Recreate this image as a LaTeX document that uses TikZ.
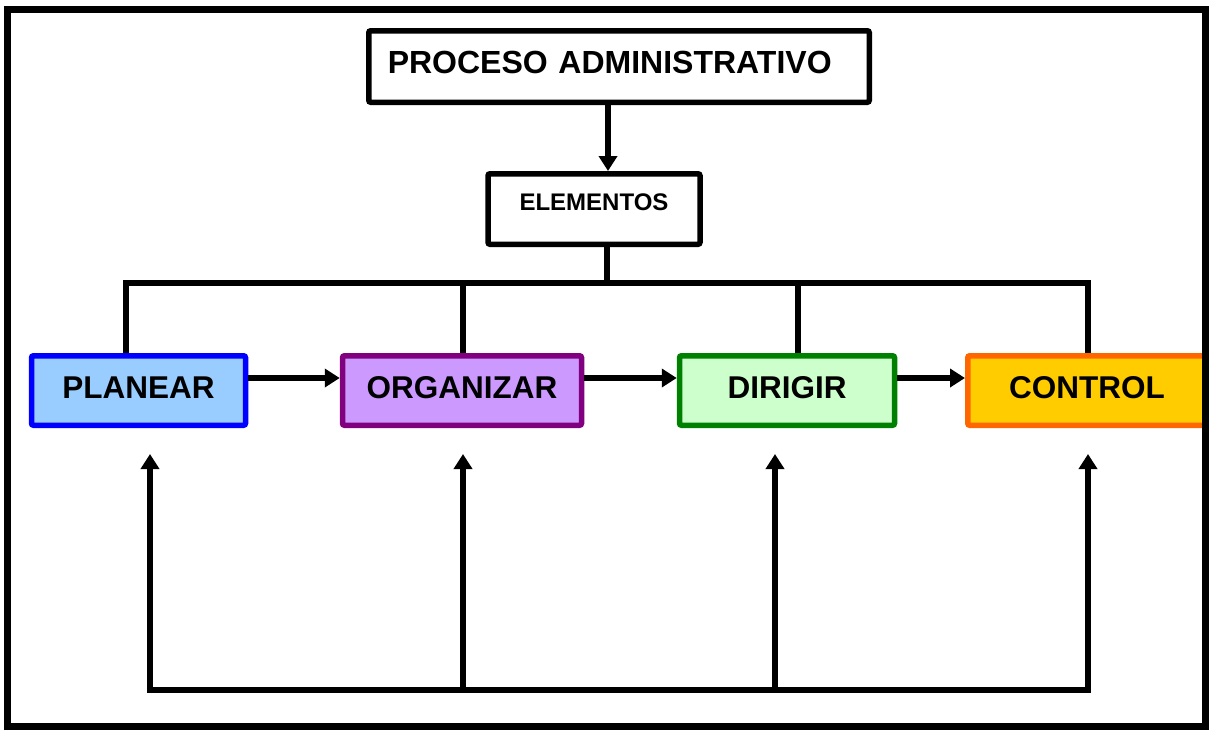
\documentclass[tikz,border=0pt]{standalone}
\usepackage{fontspec}
\setmainfont{Liberation Sans}
\usetikzlibrary{positioning,arrows.meta}

\definecolor{planfill}{HTML}{99CCFF}
\definecolor{plandraw}{HTML}{0000FF}
\definecolor{orgfill}{HTML}{CC99FF}
\definecolor{orgdraw}{HTML}{800080}
\definecolor{dirfill}{HTML}{CCFFCC}
\definecolor{dirdraw}{HTML}{008000}
\definecolor{contfill}{HTML}{FFCC00}
\definecolor{contdraw}{HTML}{FF6600}

\begin{document}
\begin{tikzpicture}[
x=1pt,y=-1pt,
>={Triangle[length=15pt,width=18pt]},
line width=6pt,
box/.style={
rectangle,
draw,
line width=5.5pt,
rounded corners=2pt,
inner sep=0pt,
minimum height=69.5pt,
text height=22pt,
text depth=6pt,
font=\bfseries\fontsize{31.5}{34}\selectfont},
head/.style={box,fill=white}
]

\useasboundingbox (0,0) rectangle (1209,729);

\node[head,inner xsep=19pt,text width=462.5pt,align=left,minimum height=71.5pt,
text height=22.9pt,text depth=9pt,font=\bfseries\fontsize{32}{34}\selectfont]
(proc) at (619,66.5) {PROCESO ADMINISTRATIVO};
\node[head,minimum width=212pt,minimum height=70.5pt,text height=17pt,text depth=15pt,
font=\bfseries\fontsize{24}{26}\selectfont] (elem) at (594,209) {ELEMENTOS};

\node[box,minimum width=214pt,draw=plandraw,fill=planfill] (plan) at (138.5,390.5) {PLANEAR};
\node[box,minimum width=239pt,draw=orgdraw,fill=orgfill] (org) at (462,390.5) {ORGANIZAR};
\node[box,minimum width=215pt,draw=dirdraw,fill=dirfill] (dir) at (787,390.5) {DIRIGIR};
\node[box,minimum width=238.5pt,draw=contdraw,fill=contfill] (cont) at (1087,390.5) {CONTROL};

\draw[->] ([xshift=-11pt]proc.south) -- ([xshift=-11pt]proc.south |- elem.north);

\coordinate (bus) at (607,283);
\draw (elem.south -| bus) -- (bus);
\draw ([xshift=-12.5pt]plan.north) |- (bus) -| ([xshift=1pt]cont.north);
\foreach \b/\dx in {org/1,dir/11}
\draw ([xshift=\dx pt]\b.north) -- ([xshift=\dx pt]\b.north |- bus);

\foreach \a/\b in {plan/org,org/dir,dir/cont}
\draw[->] ([yshift=12.5pt]\a.east) -- ([yshift=12.5pt]\b.west);

\coordinate (fb) at (0,690);
\draw[line cap=rect] ([xshift=11.5pt]plan.south |- fb) -- ([xshift=1pt]cont.south |- fb);
\foreach \b/\dx in {plan/11.5,org/1,dir/-12,cont/1}
\draw[->] ([xshift=\dx pt]\b.south |- fb) -- ([xshift=\dx pt,yshift=-26pt]\b.south);

\draw[line width=7pt] (7,9) rectangle (1205.5,726);

\end{tikzpicture}
\end{document}
